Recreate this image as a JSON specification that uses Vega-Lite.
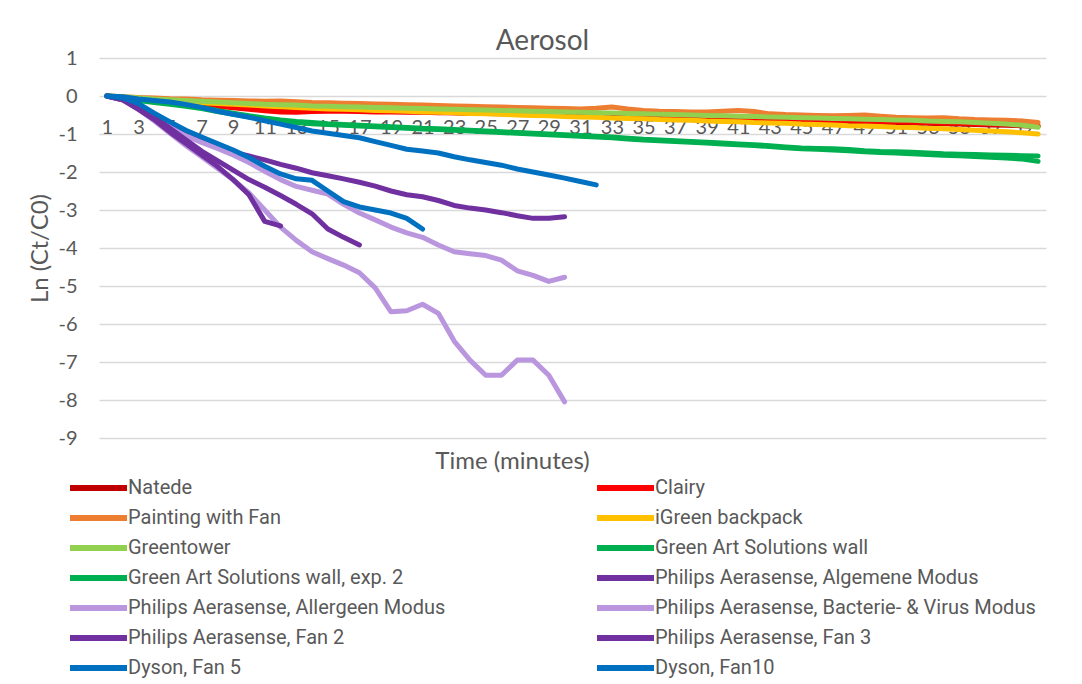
{
"$schema": "https://vega.github.io/schema/vega-lite/v6.json",
"width": 947, "height": 380,
"autosize": "none",
"padding": {"left": 99, "top": 58, "right": 36, "bottom": 246},
"background": "white",
"title": {"text": "Aerosol", "font": "Lato", "fontSize": 28, "fontWeight": "normal", "color": "#595959", "anchor": "middle", "dx": -30, "dy": 38, "baseline": "alphabetic", "offset": 8},
"data": {"values": [
{"s":"Natede","t":1,"v":0},{"s":"Natede","t":2,"v":-0.03},{"s":"Natede","t":3,"v":-0.06},{"s":"Natede","t":4,"v":-0.09},{"s":"Natede","t":5,"v":-0.12},{"s":"Natede","t":6,"v":-0.15},{"s":"Natede","t":7,"v":-0.18},{"s":"Natede","t":8,"v":-0.21},{"s":"Natede","t":9,"v":-0.24},{"s":"Natede","t":10,"v":-0.27},{"s":"Natede","t":11,"v":-0.3},{"s":"Natede","t":12,"v":-0.32},{"s":"Natede","t":13,"v":-0.34},{"s":"Natede","t":14,"v":-0.35},{"s":"Natede","t":15,"v":-0.36},{"s":"Natede","t":16,"v":-0.37},{"s":"Natede","t":17,"v":-0.38},{"s":"Natede","t":18,"v":-0.39},{"s":"Natede","t":19,"v":-0.4},{"s":"Natede","t":20,"v":-0.41},{"s":"Natede","t":21,"v":-0.42},{"s":"Natede","t":22,"v":-0.43},{"s":"Natede","t":23,"v":-0.44},{"s":"Natede","t":24,"v":-0.45},{"s":"Natede","t":25,"v":-0.46},{"s":"Natede","t":26,"v":-0.47},{"s":"Natede","t":27,"v":-0.48},{"s":"Natede","t":28,"v":-0.49},{"s":"Natede","t":29,"v":-0.5},{"s":"Natede","t":30,"v":-0.51},{"s":"Natede","t":31,"v":-0.52},{"s":"Natede","t":32,"v":-0.53},{"s":"Natede","t":33,"v":-0.54},{"s":"Natede","t":34,"v":-0.55},{"s":"Natede","t":35,"v":-0.56},{"s":"Natede","t":36,"v":-0.57},{"s":"Natede","t":37,"v":-0.58},{"s":"Natede","t":38,"v":-0.59},{"s":"Natede","t":39,"v":-0.6},{"s":"Natede","t":40,"v":-0.6},{"s":"Natede","t":41,"v":-0.61},{"s":"Natede","t":42,"v":-0.62},{"s":"Natede","t":43,"v":-0.63},{"s":"Natede","t":44,"v":-0.64},{"s":"Natede","t":45,"v":-0.65},{"s":"Natede","t":46,"v":-0.66},{"s":"Natede","t":47,"v":-0.67},{"s":"Natede","t":48,"v":-0.68},{"s":"Natede","t":49,"v":-0.69},{"s":"Natede","t":50,"v":-0.7},{"s":"Natede","t":51,"v":-0.7},{"s":"Natede","t":52,"v":-0.71},{"s":"Natede","t":53,"v":-0.72},{"s":"Natede","t":54,"v":-0.73},{"s":"Natede","t":55,"v":-0.74},{"s":"Natede","t":56,"v":-0.75},{"s":"Natede","t":57,"v":-0.76},{"s":"Natede","t":58,"v":-0.77},{"s":"Natede","t":59,"v":-0.78},{"s":"Natede","t":60,"v":-0.8},
{"s":"Clairy","t":1,"v":0},{"s":"Clairy","t":2,"v":-0.03},{"s":"Clairy","t":3,"v":-0.07},{"s":"Clairy","t":4,"v":-0.1},{"s":"Clairy","t":5,"v":-0.14},{"s":"Clairy","t":6,"v":-0.18},{"s":"Clairy","t":7,"v":-0.22},{"s":"Clairy","t":8,"v":-0.27},{"s":"Clairy","t":9,"v":-0.31},{"s":"Clairy","t":10,"v":-0.35},{"s":"Clairy","t":11,"v":-0.39},{"s":"Clairy","t":12,"v":-0.42},{"s":"Clairy","t":13,"v":-0.43},{"s":"Clairy","t":14,"v":-0.41},{"s":"Clairy","t":15,"v":-0.4},{"s":"Clairy","t":16,"v":-0.4},{"s":"Clairy","t":17,"v":-0.41},{"s":"Clairy","t":18,"v":-0.42},{"s":"Clairy","t":19,"v":-0.42},{"s":"Clairy","t":20,"v":-0.43},{"s":"Clairy","t":21,"v":-0.43},{"s":"Clairy","t":22,"v":-0.44},{"s":"Clairy","t":23,"v":-0.44},{"s":"Clairy","t":24,"v":-0.45},{"s":"Clairy","t":25,"v":-0.45},{"s":"Clairy","t":26,"v":-0.46},{"s":"Clairy","t":27,"v":-0.47},{"s":"Clairy","t":28,"v":-0.48},{"s":"Clairy","t":29,"v":-0.49},{"s":"Clairy","t":30,"v":-0.5},{"s":"Clairy","t":31,"v":-0.5},{"s":"Clairy","t":32,"v":-0.51},{"s":"Clairy","t":33,"v":-0.52},{"s":"Clairy","t":34,"v":-0.53},{"s":"Clairy","t":35,"v":-0.54},{"s":"Clairy","t":36,"v":-0.55},{"s":"Clairy","t":37,"v":-0.56},{"s":"Clairy","t":38,"v":-0.57},{"s":"Clairy","t":39,"v":-0.58},{"s":"Clairy","t":40,"v":-0.58},{"s":"Clairy","t":41,"v":-0.59},{"s":"Clairy","t":42,"v":-0.6},{"s":"Clairy","t":43,"v":-0.61},{"s":"Clairy","t":44,"v":-0.62},{"s":"Clairy","t":45,"v":-0.63},{"s":"Clairy","t":46,"v":-0.64},{"s":"Clairy","t":47,"v":-0.65},{"s":"Clairy","t":48,"v":-0.65},{"s":"Clairy","t":49,"v":-0.66},{"s":"Clairy","t":50,"v":-0.67},{"s":"Clairy","t":51,"v":-0.68},{"s":"Clairy","t":52,"v":-0.69},{"s":"Clairy","t":53,"v":-0.7},{"s":"Clairy","t":54,"v":-0.71},{"s":"Clairy","t":55,"v":-0.72},{"s":"Clairy","t":56,"v":-0.73},{"s":"Clairy","t":57,"v":-0.74},{"s":"Clairy","t":58,"v":-0.75},{"s":"Clairy","t":59,"v":-0.76},{"s":"Clairy","t":60,"v":-0.78},
{"s":"Painting with Fan","t":1,"v":0},{"s":"Painting with Fan","t":2,"v":-0.02},{"s":"Painting with Fan","t":3,"v":-0.04},{"s":"Painting with Fan","t":4,"v":-0.05},{"s":"Painting with Fan","t":5,"v":-0.07},{"s":"Painting with Fan","t":6,"v":-0.08},{"s":"Painting with Fan","t":7,"v":-0.1},{"s":"Painting with Fan","t":8,"v":-0.11},{"s":"Painting with Fan","t":9,"v":-0.12},{"s":"Painting with Fan","t":10,"v":-0.13},{"s":"Painting with Fan","t":11,"v":-0.14},{"s":"Painting with Fan","t":12,"v":-0.13},{"s":"Painting with Fan","t":13,"v":-0.15},{"s":"Painting with Fan","t":14,"v":-0.17},{"s":"Painting with Fan","t":15,"v":-0.18},{"s":"Painting with Fan","t":16,"v":-0.19},{"s":"Painting with Fan","t":17,"v":-0.2},{"s":"Painting with Fan","t":18,"v":-0.21},{"s":"Painting with Fan","t":19,"v":-0.22},{"s":"Painting with Fan","t":20,"v":-0.23},{"s":"Painting with Fan","t":21,"v":-0.24},{"s":"Painting with Fan","t":22,"v":-0.25},{"s":"Painting with Fan","t":23,"v":-0.26},{"s":"Painting with Fan","t":24,"v":-0.27},{"s":"Painting with Fan","t":25,"v":-0.28},{"s":"Painting with Fan","t":26,"v":-0.29},{"s":"Painting with Fan","t":27,"v":-0.3},{"s":"Painting with Fan","t":28,"v":-0.31},{"s":"Painting with Fan","t":29,"v":-0.32},{"s":"Painting with Fan","t":30,"v":-0.33},{"s":"Painting with Fan","t":31,"v":-0.34},{"s":"Painting with Fan","t":32,"v":-0.32},{"s":"Painting with Fan","t":33,"v":-0.29},{"s":"Painting with Fan","t":34,"v":-0.34},{"s":"Painting with Fan","t":35,"v":-0.38},{"s":"Painting with Fan","t":36,"v":-0.4},{"s":"Painting with Fan","t":37,"v":-0.41},{"s":"Painting with Fan","t":38,"v":-0.42},{"s":"Painting with Fan","t":39,"v":-0.42},{"s":"Painting with Fan","t":40,"v":-0.4},{"s":"Painting with Fan","t":41,"v":-0.38},{"s":"Painting with Fan","t":42,"v":-0.41},{"s":"Painting with Fan","t":43,"v":-0.47},{"s":"Painting with Fan","t":44,"v":-0.49},{"s":"Painting with Fan","t":45,"v":-0.5},{"s":"Painting with Fan","t":46,"v":-0.51},{"s":"Painting with Fan","t":47,"v":-0.52},{"s":"Painting with Fan","t":48,"v":-0.51},{"s":"Painting with Fan","t":49,"v":-0.5},{"s":"Painting with Fan","t":50,"v":-0.53},{"s":"Painting with Fan","t":51,"v":-0.56},{"s":"Painting with Fan","t":52,"v":-0.57},{"s":"Painting with Fan","t":53,"v":-0.58},{"s":"Painting with Fan","t":54,"v":-0.57},{"s":"Painting with Fan","t":55,"v":-0.6},{"s":"Painting with Fan","t":56,"v":-0.62},{"s":"Painting with Fan","t":57,"v":-0.63},{"s":"Painting with Fan","t":58,"v":-0.64},{"s":"Painting with Fan","t":59,"v":-0.66},{"s":"Painting with Fan","t":60,"v":-0.7},
{"s":"iGreen backpack","t":1,"v":0},{"s":"iGreen backpack","t":2,"v":-0.03},{"s":"iGreen backpack","t":3,"v":-0.06},{"s":"iGreen backpack","t":4,"v":-0.09},{"s":"iGreen backpack","t":5,"v":-0.12},{"s":"iGreen backpack","t":6,"v":-0.15},{"s":"iGreen backpack","t":7,"v":-0.18},{"s":"iGreen backpack","t":8,"v":-0.2},{"s":"iGreen backpack","t":9,"v":-0.22},{"s":"iGreen backpack","t":10,"v":-0.24},{"s":"iGreen backpack","t":11,"v":-0.26},{"s":"iGreen backpack","t":12,"v":-0.28},{"s":"iGreen backpack","t":13,"v":-0.3},{"s":"iGreen backpack","t":14,"v":-0.32},{"s":"iGreen backpack","t":15,"v":-0.34},{"s":"iGreen backpack","t":16,"v":-0.35},{"s":"iGreen backpack","t":17,"v":-0.36},{"s":"iGreen backpack","t":18,"v":-0.38},{"s":"iGreen backpack","t":19,"v":-0.39},{"s":"iGreen backpack","t":20,"v":-0.4},{"s":"iGreen backpack","t":21,"v":-0.42},{"s":"iGreen backpack","t":22,"v":-0.43},{"s":"iGreen backpack","t":23,"v":-0.44},{"s":"iGreen backpack","t":24,"v":-0.46},{"s":"iGreen backpack","t":25,"v":-0.47},{"s":"iGreen backpack","t":26,"v":-0.48},{"s":"iGreen backpack","t":27,"v":-0.5},{"s":"iGreen backpack","t":28,"v":-0.51},{"s":"iGreen backpack","t":29,"v":-0.52},{"s":"iGreen backpack","t":30,"v":-0.54},{"s":"iGreen backpack","t":31,"v":-0.55},{"s":"iGreen backpack","t":32,"v":-0.56},{"s":"iGreen backpack","t":33,"v":-0.58},{"s":"iGreen backpack","t":34,"v":-0.59},{"s":"iGreen backpack","t":35,"v":-0.6},{"s":"iGreen backpack","t":36,"v":-0.62},{"s":"iGreen backpack","t":37,"v":-0.63},{"s":"iGreen backpack","t":38,"v":-0.64},{"s":"iGreen backpack","t":39,"v":-0.66},{"s":"iGreen backpack","t":40,"v":-0.67},{"s":"iGreen backpack","t":41,"v":-0.68},{"s":"iGreen backpack","t":42,"v":-0.7},{"s":"iGreen backpack","t":43,"v":-0.71},{"s":"iGreen backpack","t":44,"v":-0.72},{"s":"iGreen backpack","t":45,"v":-0.74},{"s":"iGreen backpack","t":46,"v":-0.75},{"s":"iGreen backpack","t":47,"v":-0.76},{"s":"iGreen backpack","t":48,"v":-0.78},{"s":"iGreen backpack","t":49,"v":-0.79},{"s":"iGreen backpack","t":50,"v":-0.8},{"s":"iGreen backpack","t":51,"v":-0.82},{"s":"iGreen backpack","t":52,"v":-0.83},{"s":"iGreen backpack","t":53,"v":-0.85},{"s":"iGreen backpack","t":54,"v":-0.86},{"s":"iGreen backpack","t":55,"v":-0.88},{"s":"iGreen backpack","t":56,"v":-0.9},{"s":"iGreen backpack","t":57,"v":-0.92},{"s":"iGreen backpack","t":58,"v":-0.94},{"s":"iGreen backpack","t":59,"v":-0.97},{"s":"iGreen backpack","t":60,"v":-1.0},
{"s":"Greentower","t":1,"v":0},{"s":"Greentower","t":2,"v":-0.02},{"s":"Greentower","t":3,"v":-0.05},{"s":"Greentower","t":4,"v":-0.08},{"s":"Greentower","t":5,"v":-0.1},{"s":"Greentower","t":6,"v":-0.12},{"s":"Greentower","t":7,"v":-0.14},{"s":"Greentower","t":8,"v":-0.16},{"s":"Greentower","t":9,"v":-0.18},{"s":"Greentower","t":10,"v":-0.2},{"s":"Greentower","t":11,"v":-0.22},{"s":"Greentower","t":12,"v":-0.23},{"s":"Greentower","t":13,"v":-0.24},{"s":"Greentower","t":14,"v":-0.26},{"s":"Greentower","t":15,"v":-0.27},{"s":"Greentower","t":16,"v":-0.28},{"s":"Greentower","t":17,"v":-0.29},{"s":"Greentower","t":18,"v":-0.3},{"s":"Greentower","t":19,"v":-0.31},{"s":"Greentower","t":20,"v":-0.32},{"s":"Greentower","t":21,"v":-0.33},{"s":"Greentower","t":22,"v":-0.34},{"s":"Greentower","t":23,"v":-0.35},{"s":"Greentower","t":24,"v":-0.36},{"s":"Greentower","t":25,"v":-0.37},{"s":"Greentower","t":26,"v":-0.38},{"s":"Greentower","t":27,"v":-0.39},{"s":"Greentower","t":28,"v":-0.4},{"s":"Greentower","t":29,"v":-0.41},{"s":"Greentower","t":30,"v":-0.42},{"s":"Greentower","t":31,"v":-0.43},{"s":"Greentower","t":32,"v":-0.44},{"s":"Greentower","t":33,"v":-0.45},{"s":"Greentower","t":34,"v":-0.46},{"s":"Greentower","t":35,"v":-0.47},{"s":"Greentower","t":36,"v":-0.48},{"s":"Greentower","t":37,"v":-0.49},{"s":"Greentower","t":38,"v":-0.5},{"s":"Greentower","t":39,"v":-0.51},{"s":"Greentower","t":40,"v":-0.52},{"s":"Greentower","t":41,"v":-0.53},{"s":"Greentower","t":42,"v":-0.54},{"s":"Greentower","t":43,"v":-0.55},{"s":"Greentower","t":44,"v":-0.56},{"s":"Greentower","t":45,"v":-0.57},{"s":"Greentower","t":46,"v":-0.58},{"s":"Greentower","t":47,"v":-0.59},{"s":"Greentower","t":48,"v":-0.6},{"s":"Greentower","t":49,"v":-0.61},{"s":"Greentower","t":50,"v":-0.62},{"s":"Greentower","t":51,"v":-0.63},{"s":"Greentower","t":52,"v":-0.64},{"s":"Greentower","t":53,"v":-0.66},{"s":"Greentower","t":54,"v":-0.67},{"s":"Greentower","t":55,"v":-0.68},{"s":"Greentower","t":56,"v":-0.7},{"s":"Greentower","t":57,"v":-0.72},{"s":"Greentower","t":58,"v":-0.74},{"s":"Greentower","t":59,"v":-0.77},{"s":"Greentower","t":60,"v":-0.82},
{"s":"Green Art Solutions wall","t":1,"v":0},{"s":"Green Art Solutions wall","t":2,"v":-0.05},{"s":"Green Art Solutions wall","t":3,"v":-0.1},{"s":"Green Art Solutions wall","t":4,"v":-0.15},{"s":"Green Art Solutions wall","t":5,"v":-0.2},{"s":"Green Art Solutions wall","t":6,"v":-0.25},{"s":"Green Art Solutions wall","t":7,"v":-0.3},{"s":"Green Art Solutions wall","t":8,"v":-0.38},{"s":"Green Art Solutions wall","t":9,"v":-0.45},{"s":"Green Art Solutions wall","t":10,"v":-0.52},{"s":"Green Art Solutions wall","t":11,"v":-0.58},{"s":"Green Art Solutions wall","t":12,"v":-0.63},{"s":"Green Art Solutions wall","t":13,"v":-0.67},{"s":"Green Art Solutions wall","t":14,"v":-0.7},{"s":"Green Art Solutions wall","t":15,"v":-0.73},{"s":"Green Art Solutions wall","t":16,"v":-0.75},{"s":"Green Art Solutions wall","t":17,"v":-0.77},{"s":"Green Art Solutions wall","t":18,"v":-0.79},{"s":"Green Art Solutions wall","t":19,"v":-0.81},{"s":"Green Art Solutions wall","t":20,"v":-0.83},{"s":"Green Art Solutions wall","t":21,"v":-0.85},{"s":"Green Art Solutions wall","t":22,"v":-0.86},{"s":"Green Art Solutions wall","t":23,"v":-0.88},{"s":"Green Art Solutions wall","t":24,"v":-0.9},{"s":"Green Art Solutions wall","t":25,"v":-0.92},{"s":"Green Art Solutions wall","t":26,"v":-0.94},{"s":"Green Art Solutions wall","t":27,"v":-0.96},{"s":"Green Art Solutions wall","t":28,"v":-0.98},{"s":"Green Art Solutions wall","t":29,"v":-1.0},{"s":"Green Art Solutions wall","t":30,"v":-1.02},{"s":"Green Art Solutions wall","t":31,"v":-1.04},{"s":"Green Art Solutions wall","t":32,"v":-1.06},{"s":"Green Art Solutions wall","t":33,"v":-1.08},{"s":"Green Art Solutions wall","t":34,"v":-1.11},{"s":"Green Art Solutions wall","t":35,"v":-1.14},{"s":"Green Art Solutions wall","t":36,"v":-1.16},{"s":"Green Art Solutions wall","t":37,"v":-1.18},{"s":"Green Art Solutions wall","t":38,"v":-1.2},{"s":"Green Art Solutions wall","t":39,"v":-1.22},{"s":"Green Art Solutions wall","t":40,"v":-1.24},{"s":"Green Art Solutions wall","t":41,"v":-1.26},{"s":"Green Art Solutions wall","t":42,"v":-1.28},{"s":"Green Art Solutions wall","t":43,"v":-1.31},{"s":"Green Art Solutions wall","t":44,"v":-1.34},{"s":"Green Art Solutions wall","t":45,"v":-1.37},{"s":"Green Art Solutions wall","t":46,"v":-1.38},{"s":"Green Art Solutions wall","t":47,"v":-1.39},{"s":"Green Art Solutions wall","t":48,"v":-1.41},{"s":"Green Art Solutions wall","t":49,"v":-1.44},{"s":"Green Art Solutions wall","t":50,"v":-1.46},{"s":"Green Art Solutions wall","t":51,"v":-1.47},{"s":"Green Art Solutions wall","t":52,"v":-1.48},{"s":"Green Art Solutions wall","t":53,"v":-1.5},{"s":"Green Art Solutions wall","t":54,"v":-1.52},{"s":"Green Art Solutions wall","t":55,"v":-1.53},{"s":"Green Art Solutions wall","t":56,"v":-1.54},{"s":"Green Art Solutions wall","t":57,"v":-1.55},{"s":"Green Art Solutions wall","t":58,"v":-1.56},{"s":"Green Art Solutions wall","t":59,"v":-1.57},{"s":"Green Art Solutions wall","t":60,"v":-1.58},
{"s":"Green Art Solutions wall, exp. 2","t":1,"v":0},{"s":"Green Art Solutions wall, exp. 2","t":2,"v":-0.06},{"s":"Green Art Solutions wall, exp. 2","t":3,"v":-0.12},{"s":"Green Art Solutions wall, exp. 2","t":4,"v":-0.17},{"s":"Green Art Solutions wall, exp. 2","t":5,"v":-0.22},{"s":"Green Art Solutions wall, exp. 2","t":6,"v":-0.27},{"s":"Green Art Solutions wall, exp. 2","t":7,"v":-0.33},{"s":"Green Art Solutions wall, exp. 2","t":8,"v":-0.41},{"s":"Green Art Solutions wall, exp. 2","t":9,"v":-0.48},{"s":"Green Art Solutions wall, exp. 2","t":10,"v":-0.55},{"s":"Green Art Solutions wall, exp. 2","t":11,"v":-0.61},{"s":"Green Art Solutions wall, exp. 2","t":12,"v":-0.66},{"s":"Green Art Solutions wall, exp. 2","t":13,"v":-0.7},{"s":"Green Art Solutions wall, exp. 2","t":14,"v":-0.73},{"s":"Green Art Solutions wall, exp. 2","t":15,"v":-0.75},{"s":"Green Art Solutions wall, exp. 2","t":16,"v":-0.77},{"s":"Green Art Solutions wall, exp. 2","t":17,"v":-0.79},{"s":"Green Art Solutions wall, exp. 2","t":18,"v":-0.81},{"s":"Green Art Solutions wall, exp. 2","t":19,"v":-0.83},{"s":"Green Art Solutions wall, exp. 2","t":20,"v":-0.85},{"s":"Green Art Solutions wall, exp. 2","t":21,"v":-0.87},{"s":"Green Art Solutions wall, exp. 2","t":22,"v":-0.88},{"s":"Green Art Solutions wall, exp. 2","t":23,"v":-0.9},{"s":"Green Art Solutions wall, exp. 2","t":24,"v":-0.92},{"s":"Green Art Solutions wall, exp. 2","t":25,"v":-0.94},{"s":"Green Art Solutions wall, exp. 2","t":26,"v":-0.96},{"s":"Green Art Solutions wall, exp. 2","t":27,"v":-0.98},{"s":"Green Art Solutions wall, exp. 2","t":28,"v":-1.0},{"s":"Green Art Solutions wall, exp. 2","t":29,"v":-1.02},{"s":"Green Art Solutions wall, exp. 2","t":30,"v":-1.04},{"s":"Green Art Solutions wall, exp. 2","t":31,"v":-1.06},{"s":"Green Art Solutions wall, exp. 2","t":32,"v":-1.08},{"s":"Green Art Solutions wall, exp. 2","t":33,"v":-1.1},{"s":"Green Art Solutions wall, exp. 2","t":34,"v":-1.13},{"s":"Green Art Solutions wall, exp. 2","t":35,"v":-1.16},{"s":"Green Art Solutions wall, exp. 2","t":36,"v":-1.18},{"s":"Green Art Solutions wall, exp. 2","t":37,"v":-1.2},{"s":"Green Art Solutions wall, exp. 2","t":38,"v":-1.22},{"s":"Green Art Solutions wall, exp. 2","t":39,"v":-1.24},{"s":"Green Art Solutions wall, exp. 2","t":40,"v":-1.26},{"s":"Green Art Solutions wall, exp. 2","t":41,"v":-1.28},{"s":"Green Art Solutions wall, exp. 2","t":42,"v":-1.3},{"s":"Green Art Solutions wall, exp. 2","t":43,"v":-1.33},{"s":"Green Art Solutions wall, exp. 2","t":44,"v":-1.36},{"s":"Green Art Solutions wall, exp. 2","t":45,"v":-1.39},{"s":"Green Art Solutions wall, exp. 2","t":46,"v":-1.4},{"s":"Green Art Solutions wall, exp. 2","t":47,"v":-1.42},{"s":"Green Art Solutions wall, exp. 2","t":48,"v":-1.44},{"s":"Green Art Solutions wall, exp. 2","t":49,"v":-1.47},{"s":"Green Art Solutions wall, exp. 2","t":50,"v":-1.49},{"s":"Green Art Solutions wall, exp. 2","t":51,"v":-1.5},{"s":"Green Art Solutions wall, exp. 2","t":52,"v":-1.52},{"s":"Green Art Solutions wall, exp. 2","t":53,"v":-1.54},{"s":"Green Art Solutions wall, exp. 2","t":54,"v":-1.56},{"s":"Green Art Solutions wall, exp. 2","t":55,"v":-1.57},{"s":"Green Art Solutions wall, exp. 2","t":56,"v":-1.59},{"s":"Green Art Solutions wall, exp. 2","t":57,"v":-1.61},{"s":"Green Art Solutions wall, exp. 2","t":58,"v":-1.63},{"s":"Green Art Solutions wall, exp. 2","t":59,"v":-1.66},{"s":"Green Art Solutions wall, exp. 2","t":60,"v":-1.72},
{"s":"Philips Aerasense, Algemene Modus","t":1,"v":0},{"s":"Philips Aerasense, Algemene Modus","t":2,"v":-0.08},{"s":"Philips Aerasense, Algemene Modus","t":3,"v":-0.25},{"s":"Philips Aerasense, Algemene Modus","t":4,"v":-0.5},{"s":"Philips Aerasense, Algemene Modus","t":5,"v":-0.75},{"s":"Philips Aerasense, Algemene Modus","t":6,"v":-0.98},{"s":"Philips Aerasense, Algemene Modus","t":7,"v":-1.15},{"s":"Philips Aerasense, Algemene Modus","t":8,"v":-1.33},{"s":"Philips Aerasense, Algemene Modus","t":9,"v":-1.48},{"s":"Philips Aerasense, Algemene Modus","t":10,"v":-1.58},{"s":"Philips Aerasense, Algemene Modus","t":11,"v":-1.68},{"s":"Philips Aerasense, Algemene Modus","t":12,"v":-1.8},{"s":"Philips Aerasense, Algemene Modus","t":13,"v":-1.9},{"s":"Philips Aerasense, Algemene Modus","t":14,"v":-2.02},{"s":"Philips Aerasense, Algemene Modus","t":15,"v":-2.1},{"s":"Philips Aerasense, Algemene Modus","t":16,"v":-2.18},{"s":"Philips Aerasense, Algemene Modus","t":17,"v":-2.27},{"s":"Philips Aerasense, Algemene Modus","t":18,"v":-2.37},{"s":"Philips Aerasense, Algemene Modus","t":19,"v":-2.5},{"s":"Philips Aerasense, Algemene Modus","t":20,"v":-2.6},{"s":"Philips Aerasense, Algemene Modus","t":21,"v":-2.65},{"s":"Philips Aerasense, Algemene Modus","t":22,"v":-2.75},{"s":"Philips Aerasense, Algemene Modus","t":23,"v":-2.88},{"s":"Philips Aerasense, Algemene Modus","t":24,"v":-2.95},{"s":"Philips Aerasense, Algemene Modus","t":25,"v":-3.0},{"s":"Philips Aerasense, Algemene Modus","t":26,"v":-3.07},{"s":"Philips Aerasense, Algemene Modus","t":27,"v":-3.15},{"s":"Philips Aerasense, Algemene Modus","t":28,"v":-3.22},{"s":"Philips Aerasense, Algemene Modus","t":29,"v":-3.22},{"s":"Philips Aerasense, Algemene Modus","t":30,"v":-3.18},
{"s":"Philips Aerasense, Allergeen Modus","t":1,"v":0},{"s":"Philips Aerasense, Allergeen Modus","t":2,"v":-0.1},{"s":"Philips Aerasense, Allergeen Modus","t":3,"v":-0.3},{"s":"Philips Aerasense, Allergeen Modus","t":4,"v":-0.55},{"s":"Philips Aerasense, Allergeen Modus","t":5,"v":-0.82},{"s":"Philips Aerasense, Allergeen Modus","t":6,"v":-1.05},{"s":"Philips Aerasense, Allergeen Modus","t":7,"v":-1.22},{"s":"Philips Aerasense, Allergeen Modus","t":8,"v":-1.38},{"s":"Philips Aerasense, Allergeen Modus","t":9,"v":-1.55},{"s":"Philips Aerasense, Allergeen Modus","t":10,"v":-1.75},{"s":"Philips Aerasense, Allergeen Modus","t":11,"v":-1.98},{"s":"Philips Aerasense, Allergeen Modus","t":12,"v":-2.2},{"s":"Philips Aerasense, Allergeen Modus","t":13,"v":-2.38},{"s":"Philips Aerasense, Allergeen Modus","t":14,"v":-2.48},{"s":"Philips Aerasense, Allergeen Modus","t":15,"v":-2.58},{"s":"Philips Aerasense, Allergeen Modus","t":16,"v":-2.85},{"s":"Philips Aerasense, Allergeen Modus","t":17,"v":-3.08},{"s":"Philips Aerasense, Allergeen Modus","t":18,"v":-3.26},{"s":"Philips Aerasense, Allergeen Modus","t":19,"v":-3.45},{"s":"Philips Aerasense, Allergeen Modus","t":20,"v":-3.6},{"s":"Philips Aerasense, Allergeen Modus","t":21,"v":-3.72},{"s":"Philips Aerasense, Allergeen Modus","t":22,"v":-3.92},{"s":"Philips Aerasense, Allergeen Modus","t":23,"v":-4.1},{"s":"Philips Aerasense, Allergeen Modus","t":24,"v":-4.15},{"s":"Philips Aerasense, Allergeen Modus","t":25,"v":-4.2},{"s":"Philips Aerasense, Allergeen Modus","t":26,"v":-4.32},{"s":"Philips Aerasense, Allergeen Modus","t":27,"v":-4.6},{"s":"Philips Aerasense, Allergeen Modus","t":28,"v":-4.72},{"s":"Philips Aerasense, Allergeen Modus","t":29,"v":-4.88},{"s":"Philips Aerasense, Allergeen Modus","t":30,"v":-4.77},
{"s":"Philips Aerasense, Bacterie- & Virus Modus","t":1,"v":0},{"s":"Philips Aerasense, Bacterie- & Virus Modus","t":2,"v":-0.1},{"s":"Philips Aerasense, Bacterie- & Virus Modus","t":3,"v":-0.35},{"s":"Philips Aerasense, Bacterie- & Virus Modus","t":4,"v":-0.65},{"s":"Philips Aerasense, Bacterie- & Virus Modus","t":5,"v":-0.98},{"s":"Philips Aerasense, Bacterie- & Virus Modus","t":6,"v":-1.3},{"s":"Philips Aerasense, Bacterie- & Virus Modus","t":7,"v":-1.6},{"s":"Philips Aerasense, Bacterie- & Virus Modus","t":8,"v":-1.9},{"s":"Philips Aerasense, Bacterie- & Virus Modus","t":9,"v":-2.2},{"s":"Philips Aerasense, Bacterie- & Virus Modus","t":10,"v":-2.55},{"s":"Philips Aerasense, Bacterie- & Virus Modus","t":11,"v":-3.0},{"s":"Philips Aerasense, Bacterie- & Virus Modus","t":12,"v":-3.45},{"s":"Philips Aerasense, Bacterie- & Virus Modus","t":13,"v":-3.8},{"s":"Philips Aerasense, Bacterie- & Virus Modus","t":14,"v":-4.1},{"s":"Philips Aerasense, Bacterie- & Virus Modus","t":15,"v":-4.28},{"s":"Philips Aerasense, Bacterie- & Virus Modus","t":16,"v":-4.45},{"s":"Philips Aerasense, Bacterie- & Virus Modus","t":17,"v":-4.65},{"s":"Philips Aerasense, Bacterie- & Virus Modus","t":18,"v":-5.05},{"s":"Philips Aerasense, Bacterie- & Virus Modus","t":19,"v":-5.68},{"s":"Philips Aerasense, Bacterie- & Virus Modus","t":20,"v":-5.65},{"s":"Philips Aerasense, Bacterie- & Virus Modus","t":21,"v":-5.48},{"s":"Philips Aerasense, Bacterie- & Virus Modus","t":22,"v":-5.72},{"s":"Philips Aerasense, Bacterie- & Virus Modus","t":23,"v":-6.45},{"s":"Philips Aerasense, Bacterie- & Virus Modus","t":24,"v":-6.95},{"s":"Philips Aerasense, Bacterie- & Virus Modus","t":25,"v":-7.35},{"s":"Philips Aerasense, Bacterie- & Virus Modus","t":26,"v":-7.35},{"s":"Philips Aerasense, Bacterie- & Virus Modus","t":27,"v":-6.95},{"s":"Philips Aerasense, Bacterie- & Virus Modus","t":28,"v":-6.95},{"s":"Philips Aerasense, Bacterie- & Virus Modus","t":29,"v":-7.35},{"s":"Philips Aerasense, Bacterie- & Virus Modus","t":30,"v":-8.05},
{"s":"Philips Aerasense, Fan 2","t":1,"v":0},{"s":"Philips Aerasense, Fan 2","t":2,"v":-0.1},{"s":"Philips Aerasense, Fan 2","t":3,"v":-0.3},{"s":"Philips Aerasense, Fan 2","t":4,"v":-0.55},{"s":"Philips Aerasense, Fan 2","t":5,"v":-0.85},{"s":"Philips Aerasense, Fan 2","t":6,"v":-1.15},{"s":"Philips Aerasense, Fan 2","t":7,"v":-1.45},{"s":"Philips Aerasense, Fan 2","t":8,"v":-1.7},{"s":"Philips Aerasense, Fan 2","t":9,"v":-1.95},{"s":"Philips Aerasense, Fan 2","t":10,"v":-2.2},{"s":"Philips Aerasense, Fan 2","t":11,"v":-2.4},{"s":"Philips Aerasense, Fan 2","t":12,"v":-2.62},{"s":"Philips Aerasense, Fan 2","t":13,"v":-2.85},{"s":"Philips Aerasense, Fan 2","t":14,"v":-3.1},{"s":"Philips Aerasense, Fan 2","t":15,"v":-3.5},{"s":"Philips Aerasense, Fan 2","t":16,"v":-3.72},{"s":"Philips Aerasense, Fan 2","t":17,"v":-3.92},
{"s":"Philips Aerasense, Fan 3","t":1,"v":0},{"s":"Philips Aerasense, Fan 3","t":2,"v":-0.1},{"s":"Philips Aerasense, Fan 3","t":3,"v":-0.35},{"s":"Philips Aerasense, Fan 3","t":4,"v":-0.62},{"s":"Philips Aerasense, Fan 3","t":5,"v":-0.95},{"s":"Philips Aerasense, Fan 3","t":6,"v":-1.25},{"s":"Philips Aerasense, Fan 3","t":7,"v":-1.55},{"s":"Philips Aerasense, Fan 3","t":8,"v":-1.85},{"s":"Philips Aerasense, Fan 3","t":9,"v":-2.2},{"s":"Philips Aerasense, Fan 3","t":10,"v":-2.6},{"s":"Philips Aerasense, Fan 3","t":11,"v":-3.3},{"s":"Philips Aerasense, Fan 3","t":12,"v":-3.42},
{"s":"Dyson, Fan 5","t":1,"v":0},{"s":"Dyson, Fan 5","t":2,"v":-0.05},{"s":"Dyson, Fan 5","t":3,"v":-0.2},{"s":"Dyson, Fan 5","t":4,"v":-0.45},{"s":"Dyson, Fan 5","t":5,"v":-0.68},{"s":"Dyson, Fan 5","t":6,"v":-0.9},{"s":"Dyson, Fan 5","t":7,"v":-1.08},{"s":"Dyson, Fan 5","t":8,"v":-1.25},{"s":"Dyson, Fan 5","t":9,"v":-1.42},{"s":"Dyson, Fan 5","t":10,"v":-1.62},{"s":"Dyson, Fan 5","t":11,"v":-1.85},{"s":"Dyson, Fan 5","t":12,"v":-2.05},{"s":"Dyson, Fan 5","t":13,"v":-2.18},{"s":"Dyson, Fan 5","t":14,"v":-2.22},{"s":"Dyson, Fan 5","t":15,"v":-2.5},{"s":"Dyson, Fan 5","t":16,"v":-2.78},{"s":"Dyson, Fan 5","t":17,"v":-2.92},{"s":"Dyson, Fan 5","t":18,"v":-3.0},{"s":"Dyson, Fan 5","t":19,"v":-3.08},{"s":"Dyson, Fan 5","t":20,"v":-3.22},{"s":"Dyson, Fan 5","t":21,"v":-3.5},
{"s":"Dyson, Fan10","t":1,"v":0},{"s":"Dyson, Fan10","t":2,"v":-0.02},{"s":"Dyson, Fan10","t":3,"v":-0.08},{"s":"Dyson, Fan10","t":4,"v":-0.12},{"s":"Dyson, Fan10","t":5,"v":-0.16},{"s":"Dyson, Fan10","t":6,"v":-0.22},{"s":"Dyson, Fan10","t":7,"v":-0.3},{"s":"Dyson, Fan10","t":8,"v":-0.4},{"s":"Dyson, Fan10","t":9,"v":-0.48},{"s":"Dyson, Fan10","t":10,"v":-0.56},{"s":"Dyson, Fan10","t":11,"v":-0.65},{"s":"Dyson, Fan10","t":12,"v":-0.74},{"s":"Dyson, Fan10","t":13,"v":-0.83},{"s":"Dyson, Fan10","t":14,"v":-0.92},{"s":"Dyson, Fan10","t":15,"v":-0.98},{"s":"Dyson, Fan10","t":16,"v":-1.04},{"s":"Dyson, Fan10","t":17,"v":-1.1},{"s":"Dyson, Fan10","t":18,"v":-1.2},{"s":"Dyson, Fan10","t":19,"v":-1.3},{"s":"Dyson, Fan10","t":20,"v":-1.4},{"s":"Dyson, Fan10","t":21,"v":-1.45},{"s":"Dyson, Fan10","t":22,"v":-1.5},{"s":"Dyson, Fan10","t":23,"v":-1.6},{"s":"Dyson, Fan10","t":24,"v":-1.68},{"s":"Dyson, Fan10","t":25,"v":-1.75},{"s":"Dyson, Fan10","t":26,"v":-1.82},{"s":"Dyson, Fan10","t":27,"v":-1.92},{"s":"Dyson, Fan10","t":28,"v":-2.0},{"s":"Dyson, Fan10","t":29,"v":-2.08},{"s":"Dyson, Fan10","t":30,"v":-2.16},{"s":"Dyson, Fan10","t":31,"v":-2.25},{"s":"Dyson, Fan10","t":32,"v":-2.34}
]},
"mark": {"type": "line", "strokeWidth": 5, "strokeJoin": "round", "strokeCap": "round"},
"encoding": {
  "x": {"field": "t", "type": "quantitative",
    "scale": {"domain": [0.5, 60.5], "nice": false, "zero": false},
    "axis": {"orient": "bottom", "offset": -342, "values": [1,3,5,7,9,11,13,15,17,19,21,23,25,27,29,31,33,35,37,39,41,43,45,47,49,51,53,55,57,59],
      "grid": false, "domain": false, "ticks": false, "tickSize": 0,
      "labelFont": "Lato", "labelFontSize": 20, "labelColor": "#595959", "labelPadding": 37, "labelBaseline": "alphabetic", "labelOverlap": false, "labelFlush": false,
      "labelExpr": "'' + datum.value",
      "title": "Time (minutes)", "titleFont": "Lato", "titleFontSize": 24, "titleFontWeight": "normal", "titleColor": "#595959",
      "titleX": 413, "titleY": 372, "titleBaseline": "alphabetic", "titleAlign": "center"}},
  "y": {"field": "v", "type": "quantitative",
    "scale": {"domain": [-9, 1], "nice": false, "zero": false},
    "axis": {"values": [-9,-8,-7,-6,-5,-4,-3,-2,-1,0,1], "grid": true, "gridColor": "#D9D9D9", "gridWidth": 1.3,
      "domain": false, "ticks": false, "tickSize": 0,
      "labelFont": "Lato", "labelFontSize": 20, "labelColor": "#595959", "labelPadding": 22,
      "labelExpr": "'' + datum.value",
      "title": "Ln (Ct/C0)", "titleFont": "Lato", "titleFontSize": 24, "titleFontWeight": "normal", "titleColor": "#595959",
      "titleX": -59, "titleY": 190, "titleAngle": -90, "titleAlign": "center", "titleBaseline": "middle"}},
  "color": {"field": "s", "type": "nominal",
    "scale": {"domain": ["Natede","Clairy","Painting with Fan","iGreen backpack","Greentower","Green Art Solutions wall","Green Art Solutions wall, exp. 2","Philips Aerasense, Algemene Modus","Philips Aerasense, Allergeen Modus","Philips Aerasense, Bacterie- & Virus Modus","Philips Aerasense, Fan 2","Philips Aerasense, Fan 3","Dyson, Fan 5","Dyson, Fan10"],
      "range": ["#C00000","#FF0000","#ED7D31","#FFC000","#92D050","#00B050","#00B050","#7030A0","#BA96DE","#BA96DE","#7030A0","#7030A0","#0070C0","#0070C0"]},
    "legend": {"orient": "none", "legendX": -32, "legendY": 418, "direction": "horizontal", "columns": 2, "columnPadding": 148, "rowPadding": 6, "clipHeight": 24,
      "symbolType": "stroke", "symbolSize": 3249, "symbolStrokeWidth": 6, "symbolOffset": 0, "labelOffset": -2,
      "labelFont": "Roboto", "labelFontSize": 20, "labelColor": "#595959", "labelLimit": 0, "title": null, "padding": 0}}
},
"config": {"view": {"stroke": null}}
}
